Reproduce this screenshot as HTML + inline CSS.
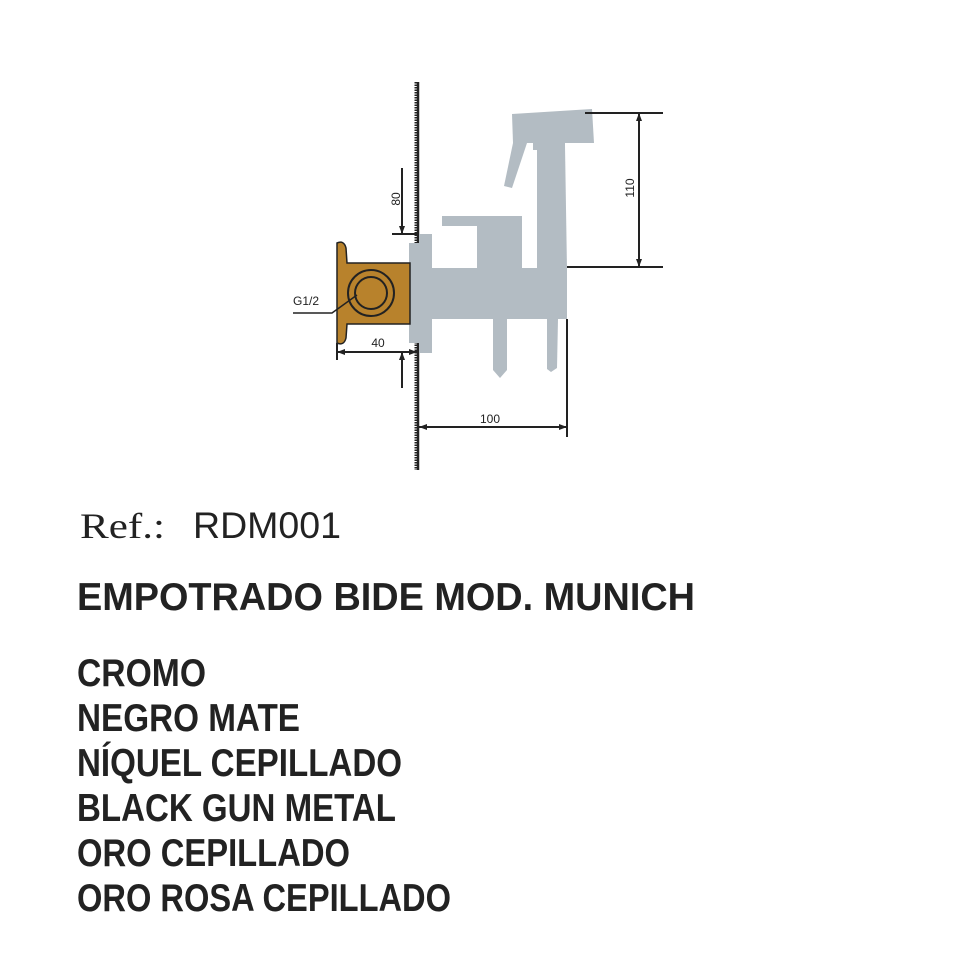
<!DOCTYPE html>
<html><head><meta charset="utf-8"><style>html,body{margin:0;padding:0;background:#fff}svg{display:block}</style></head>
<body>
<svg width="965" height="965" viewBox="0 0 965 965" xmlns="http://www.w3.org/2000/svg">
<rect width="965" height="965" fill="#fff"/>
<!-- wall -->
<line x1="416" y1="82" x2="416" y2="470" stroke="#222" stroke-width="3" stroke-dasharray="1.5 1"/>
<line x1="418" y1="82" x2="418" y2="470" stroke="#222" stroke-width="2.5"/>
<!-- gray fixture -->
<g fill="#b3bcc3">
<rect x="409" y="243" width="10" height="100"/>
<rect x="419" y="234" width="13" height="119"/>
<rect x="430" y="268" width="137" height="51"/>
<rect x="442" y="216" width="80" height="10"/>
<rect x="477" y="225" width="45" height="45"/>
<polygon points="537,146 565,146 567,270 537,270"/>
<polygon points="512,114 592,109 594,143 513,143"/>
<polygon points="513,143 527,143 512,188 504,186"/>
<polygon points="533,143 565,143 565,150 533,150"/>
<polygon points="493,319 507,319 507,370 500,378 493,370"/>
<polygon points="547,319 558,319 557,368 551,372 547,369"/>
</g>
<!-- brass -->
<g fill="#b8822c" stroke="#222" stroke-width="1.5">
<path d="M337,243 Q344,240 346,248 L347,263 L410,263 L410,324 L347,324 L346,338 Q344,346 337,343 Z"/>
</g>
<circle cx="371" cy="293" r="23" fill="none" stroke="#222" stroke-width="2"/>
<circle cx="371" cy="293" r="16" fill="none" stroke="#222" stroke-width="2"/>
<!-- G1/2 -->
<text x="293" y="305" font-family="Liberation Sans, sans-serif" font-size="12" fill="#222">G1/2</text>
<polyline points="293,313 332,313 357,295" fill="none" stroke="#222" stroke-width="1.5"/>
<!-- dims -->
<g stroke="#222" stroke-width="2" fill="none">
<line x1="402" y1="168" x2="402" y2="234"/>
<line x1="392" y1="234" x2="417" y2="234"/>
<line x1="337" y1="343" x2="337" y2="360"/>
<line x1="337" y1="352" x2="417" y2="352"/>
<line x1="402" y1="352" x2="402" y2="388"/>
<line x1="419" y1="427" x2="567" y2="427"/>
<line x1="567" y1="319" x2="567" y2="437"/>
<line x1="585" y1="113" x2="663" y2="113"/>
<line x1="567" y1="267" x2="663" y2="267"/>
<line x1="639" y1="113" x2="639" y2="267"/>
</g>
<g fill="#222">
<polygon points="399,226 405,226 402,234"/>
<polygon points="399,360 405,360 402,352"/>
<polygon points="337,352 345,349 345,355"/>
<polygon points="417,352 409,349 409,355"/>
<polygon points="419,427 427,424 427,430"/>
<polygon points="567,427 559,424 559,430"/>
<polygon points="639,113 636,121 642,121"/>
<polygon points="639,267 636,259 642,259"/>
</g>
<g font-family="Liberation Sans, sans-serif" font-size="12" fill="#222">
<text x="378" y="347" text-anchor="middle">40</text>
<text x="490" y="423" text-anchor="middle">100</text>
<text transform="translate(400,199) rotate(-90)" text-anchor="middle">80</text>
<text transform="translate(634,188) rotate(-90)" text-anchor="middle">110</text>
</g>
<!-- texts -->
<text x="80" y="538" font-family="Liberation Serif, serif" font-size="36" fill="#222" textLength="85" lengthAdjust="spacingAndGlyphs">Ref.:</text>
<text x="193" y="538" font-family="Liberation Sans, sans-serif" font-size="37" fill="#222" textLength="148" lengthAdjust="spacingAndGlyphs">RDM001</text>
<g font-family="Liberation Sans, sans-serif" font-weight="bold" font-size="39" fill="#222">
<text x="77" y="610" textLength="618" lengthAdjust="spacingAndGlyphs">EMPOTRADO BIDE MOD. MUNICH</text>
<text x="77" y="686" textLength="129" lengthAdjust="spacingAndGlyphs">CROMO</text>
<text x="77" y="731" textLength="223" lengthAdjust="spacingAndGlyphs">NEGRO MATE</text>
<text x="77" y="776" textLength="325" lengthAdjust="spacingAndGlyphs">NÍQUEL CEPILLADO</text>
<text x="77" y="821" textLength="319" lengthAdjust="spacingAndGlyphs">BLACK GUN METAL</text>
<text x="77" y="866" textLength="273" lengthAdjust="spacingAndGlyphs">ORO CEPILLADO</text>
<text x="77" y="911" textLength="374" lengthAdjust="spacingAndGlyphs">ORO ROSA CEPILLADO</text>
</g>
</svg>
</body></html>
